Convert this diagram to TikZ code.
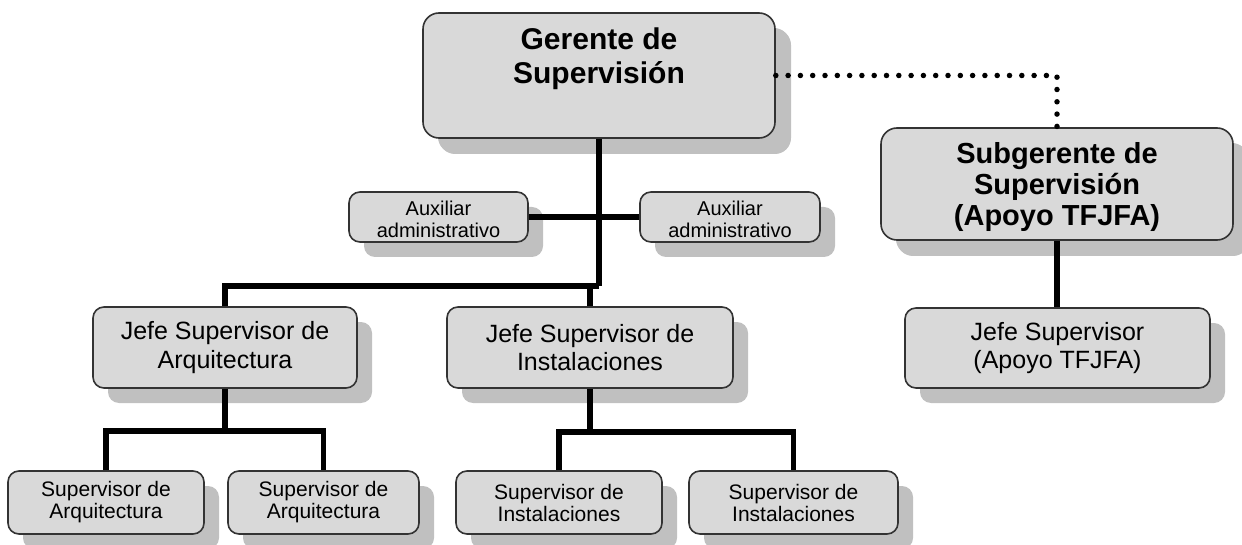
\documentclass[tikz,border=0pt]{standalone}
\usepackage{fontspec}
\setmainfont{Liberation Sans}
\usetikzlibrary{shadows}
\definecolor{boxfill}{HTML}{D9D9D9}
\definecolor{shadegray}{HTML}{C0C0C0}
\definecolor{edgegray}{HTML}{333333}
\begin{document}
\begin{tikzpicture}[x=1pt,y=-1pt,
  box/.style={draw=edgegray, line width=1.6pt, fill=boxfill, rounded corners=11pt,
    align=center, inner sep=2pt, text=black,
    drop shadow={shadow xshift=15pt, shadow yshift=-15pt, fill=shadegray, opacity=1}},
  bigbox/.style={box, rounded corners=16pt,
    drop shadow={shadow xshift=16pt, shadow yshift=-16pt, fill=shadegray, opacity=1}},
  link/.style={line width=5.5pt, black, line join=miter},
  dotlink/.style={line width=5.5pt, black, line cap=round, dash pattern=on 0pt off 12.3pt},
  fbig/.style={font=\fontsize{30pt}{34pt}\selectfont\bfseries},
  fsub/.style={font=\fontsize{29pt}{31pt}\selectfont\bfseries},
  fjefe/.style={font=\fontsize{25pt}{28.3pt}\selectfont},
  fsmall/.style={font=\fontsize{21pt}{22pt}\selectfont},
  faux/.style={font=\fontsize{20pt}{22pt}\selectfont},
]
\useasboundingbox (0,0) rectangle (1242,545);

% nodes
\node[bigbox, fbig, minimum width=352pt, minimum height=125pt, text depth=40pt] (ger) at (599,75.5) {Gerente de\\Supervisión};
\node[bigbox, fsub, minimum width=352pt, minimum height=112pt, text height=90pt] (sub) at (1057,184) {Subgerente de\\Supervisión\\(Apoyo TFJFA)};
\node[box, faux, minimum width=179pt, minimum height=50pt, text height=42pt, text depth=0pt] (auxL) at (438.5,217) {Auxiliar\\administrativo};
\node[box, faux, minimum width=180pt, minimum height=50pt, text height=42pt, text depth=0pt] (auxR) at (730,217) {Auxiliar\\administrativo};
\node[box, fjefe, minimum width=264pt, minimum height=81pt] (jarq) at (225,347.5) {Jefe Supervisor de\\Arquitectura};
\node[box, fjefe, minimum width=286pt, minimum height=81pt] (jins) at (590,347.5) {Jefe Supervisor de\\Instalaciones};
\node[box, fjefe, minimum width=305pt, minimum height=80pt] (jtf) at (1057.5,348) {Jefe Supervisor\\(Apoyo TFJFA)};
\node[box, fsmall, minimum width=196pt, minimum height=63pt] (sa1) at (106,502.5) {Supervisor de\\Arquitectura};
\node[box, fsmall, minimum width=191pt, minimum height=63pt] (sa2) at (323.5,502.5) {Supervisor de\\Arquitectura};
\node[box, fsmall, minimum width=206pt, minimum height=63pt] (si1) at (559,502.5) {Supervisor de\\Instalaciones};
\node[box, fsmall, minimum width=209pt, minimum height=63pt] (si2) at (793.5,502.5) {Supervisor de\\Instalaciones};

% connectors
\coordinate (hub) at (599,286);
\coordinate (ja) at (225,431);
\coordinate (ji) at (590,432);
\draw[link] (ger.south) -- (hub);
\draw[link] (jarq.north) |- (hub);
\draw[link] (jins.north) -- (jins.north |- hub);
\draw[link] (auxL.east) -- (auxR.west);
\draw[link] (jarq.south) -- (ja);
\draw[link] (sa1.north) -- (sa1.north |- ja) -- (sa2.north |- ja) -- (sa2.north);
\draw[link] (jins.south) -- (ji);
\draw[link] (si1.north) -- (si1.north |- ji) -- (si2.north |- ji) -- (si2.north);
\draw[link] (sub.south) -- (sub.south |- jtf.north);
\draw[dotlink] (ger.east) -| (sub.north);
\end{tikzpicture}
\end{document}
